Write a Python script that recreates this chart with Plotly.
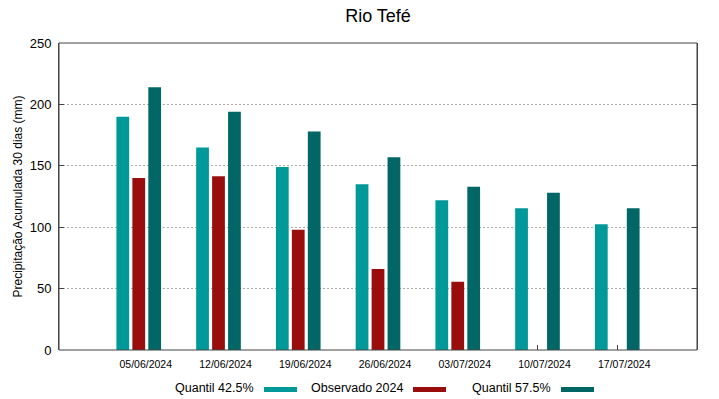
import plotly.graph_objects as go

categories = ["05/06/2024", "12/06/2024", "19/06/2024", "26/06/2024",
              "03/07/2024", "10/07/2024", "17/07/2024"]
quantil_425 = [190, 165, 149, 135, 122, 115.5, 102.5]
observado_2024 = [140, 141.5, 98, 66, 55.5, None, None]
quantil_575 = [214, 194, 178, 157, 133, 128, 115.5]

series_names = ["Quantil 42.5%", "Observado 2024", "Quantil 57.5%"]
colors = ["#009999", "#990d0d", "#006666"]
y_ticks = [0, 50, 100, 150, 200, 250]

L, R, T, B = 59, 22, 43, 49
W, H = 719, 399
pw, ph = W - L - R, H - T - B

fig = go.Figure()
for name, vals, c in zip(series_names, [quantil_425, observado_2024, quantil_575], colors):
    fig.add_trace(go.Bar(x=categories, y=vals, name=name, marker_color=c,
                         marker_line_width=0, showlegend=False))

font = "Liberation Sans, Arial, sans-serif"
fig.update_layout(
    width=W, height=H,
    margin=dict(l=L, r=R, t=T, b=B, autoexpand=False),
    plot_bgcolor="white", paper_bgcolor="white",
    barmode="group", bargap=0.4, bargroupgap=0.2,
    font=dict(family=font, color="#000000"),
    title=dict(text="Rio Tefé", x=(L + pw / 2) / W, xanchor="center",
               y=1 - 16 / H, yanchor="middle", font=dict(size=18, family=font)),
    xaxis=dict(range=[-1, 7], ticks="inside", ticklen=5, tickcolor="#444",
               showgrid=False, showline=False, layer="below traces", automargin=False,
               tickfont=dict(size=10.5), ticklabelshift=7, ticklabelstandoff=6),
    yaxis=dict(range=[0, 250], tickvals=y_ticks, ticks="inside", ticklen=5,
               tickcolor="#444", showline=True, linecolor="#444", mirror="ticks",
               showgrid=True, gridcolor="#aaaaaa", griddash="2px,2px", gridwidth=1,
               zeroline=False, tickfont=dict(size=13), ticklabelstandoff=4,
               automargin=False,
               title=dict(text="Precipitação Acumulada 30 dias (mm)",
                          font=dict(size=12), standoff=4)),
)

fig.add_shape(type="rect", xref="paper", yref="paper", x0=0, x1=1, y0=0, y1=1,
              line=dict(color="#444", width=1), layer="above")

# legend drawn gnuplot-style: text followed by a colour sample
legend_text_right = [256, 405, 553]
legend_y = 388
for name, c, xr in zip(series_names, colors, legend_text_right):
    fig.add_annotation(text=name, xref="paper", yref="paper",
                       x=(xr - L) / pw, y=(H - B - legend_y) / ph,
                       xanchor="right", yanchor="middle", showarrow=False,
                       font=dict(size=12.5, family=font))
    fig.add_shape(type="rect", xref="paper", yref="paper",
                  x0=(xr + 8 - L) / pw, x1=(xr + 41 - L) / pw,
                  y0=(H - B - (legend_y + 4)) / ph, y1=(H - B - (legend_y - 1)) / ph,
                  fillcolor=c, line_width=0)

fig.write_html("out.html", config={"displayModeBar": False},
               post_script="document.body.style.margin='0';document.body.style.padding='0';")
